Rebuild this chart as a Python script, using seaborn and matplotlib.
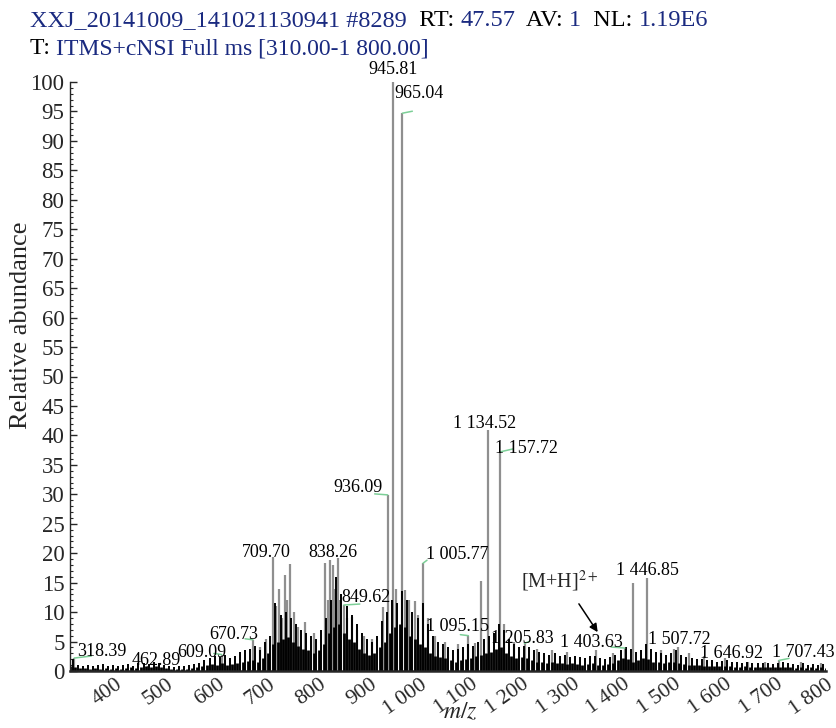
import numpy as np
import pandas as pd
import matplotlib
matplotlib.use('Agg')
import matplotlib.pyplot as plt
from matplotlib.ticker import MultipleLocator
import seaborn as sns

# ── data ───────────────────────────────────────────────────
# black "grass" level, every 10 m/z from 310 to 1800
floor_mz = np.arange(310, 1801, 10)
floor_h = [
    0.8, 0.6, 0.5, 0.5, 0.4, 0.5, 0.4, 0.5, 0.4, 0.5,
    0.4, 0.5, 0.6, 0.5, 0.7, 0.8, 0.7, 0.8, 0.6, 0.5,
    0.3, 0.3, 0.4, 0.4, 0.5, 0.6, 0.8, 1.0, 1.2, 1.0,
    1.3, 1.0, 1.2, 1.4, 1.5, 1.7, 1.8, 1.6, 2.2, 3.0,
    4.5, 5.0, 5.5, 5.8, 5.0, 4.2, 3.8, 3.5, 3.0, 3.5,
    4.5, 6.5, 7.5, 8.0, 6.5, 5.5, 5.0, 3.8, 3.0, 2.8,
    3.0, 4.0, 5.0, 6.5, 7.5, 8.0, 7.5, 6.0, 5.5, 4.5,
    4.0, 3.0, 2.6, 2.4, 2.2, 1.8, 1.6, 1.8, 2.0, 2.2,
    2.5, 2.8, 3.0, 3.2, 3.8, 4.0, 3.0, 2.5, 2.2, 2.4,
    2.2, 1.8, 1.6, 1.5, 1.4, 1.5, 1.3, 1.4, 1.2, 1.3,
    1.2, 1.1, 1.2, 1.3, 1.1, 1.0, 1.2, 1.4, 1.8, 2.2,
    2.0, 1.6, 1.8, 2.2, 2.0, 1.6, 1.5, 1.4, 1.5, 1.6,
    1.4, 1.2, 1.1, 1.0, 1.0, 0.9, 0.9, 0.8, 0.8, 0.9,
    0.8, 0.7, 0.7, 0.8, 0.7, 0.6, 0.7, 0.6, 0.6, 0.7,
    0.7, 0.6, 0.6, 0.5, 0.6, 0.5, 0.6, 0.5, 0.6, 0.5,
]

# black noise spikes, between the floor points
spike_mz = np.arange(315, 1800, 10)
spike_h = [
    2.0, 1.0, 0.9, 1.1, 0.8, 1.0, 1.2, 0.9, 1.1, 0.8,
    1.0, 1.2, 0.9, 1.3, 1.4, 1.2, 1.5, 1.3, 1.1, 0.9,
    0.7, 0.8, 0.9, 1.0, 1.2, 1.4, 1.8, 2.2, 2.5, 2.4,
    2.8, 2.2, 2.6, 3.2, 3.5, 3.8, 4.2, 3.6, 5.0, 6.0,
    11.5, 9.5, 10.0, 9.0, 8.0, 7.0, 6.5, 6.0, 5.5, 7.0,
    9.0, 12.0, 16.0, 13.0, 11.0, 9.5, 8.0, 6.5, 5.5, 5.0,
    6.0, 8.5, 10.0, 12.0, 11.5, 13.5, 12.0, 10.0, 9.0, 11.5,
    8.0, 6.0, 5.0, 4.5, 4.0, 3.5, 3.8, 4.0, 4.5, 4.2,
    5.0, 5.5, 6.0, 6.5, 8.0, 7.0, 5.5, 4.5, 4.0, 4.2,
    4.0, 3.5, 3.2, 3.0, 2.8, 3.0, 2.6, 2.8, 2.4, 2.5,
    2.4, 2.2, 2.5, 2.6, 2.2, 2.0, 2.4, 2.8, 3.5, 4.0,
    3.8, 3.2, 3.5, 4.5, 3.8, 3.2, 3.0, 2.8, 3.0, 3.5,
    2.8, 2.4, 2.2, 2.0, 2.0, 1.8, 1.8, 1.6, 1.7, 1.8,
    1.6, 1.5, 1.4, 1.6, 1.4, 1.3, 1.4, 1.3, 1.2, 1.4,
    1.5, 1.3, 1.2, 1.1, 1.3, 1.1, 1.2, 1.0, 1.2,
]

# resolved (grey) peaks
peak_mz = [318.39, 462.89, 609.09, 670.73, 685, 697, 709.70, 716, 721, 727,
           733, 738, 744, 752, 760, 773, 790, 812, 818, 823,
           828, 833, 838.26, 843, 849.62, 856, 865, 875, 890, 905,
           927.7, 936.09, 945.81, 952, 965.04, 970, 978, 989, 995, 1005.77,
           1015, 1030, 1050, 1075, 1095.15, 1108, 1121, 1134.52, 1157.72, 1165,
           1185, 1205.83, 1230, 1260, 1290, 1346, 1380, 1403.63, 1419, 1446.85,
           1475, 1500, 1507.72, 1530, 1560, 1600, 1646.92, 1680, 1707.43, 1750, 1790]
peak_h = [2.2, 0.9, 2.8, 5.3, 4.0, 5.5, 19.4, 11.0, 14.0, 9.0,
          16.3, 12.0, 18.2, 10.0, 7.5, 8.4, 6.5, 18.3, 12.0, 18.8,
          18.0, 14.0, 19.2, 12.0, 11.2, 9.0, 9.2, 7.0, 6.0, 5.5,
          10.9, 29.9, 100.0, 14.0, 94.7, 13.8, 12.0, 11.8, 9.5, 18.3,
          9.0, 6.0, 5.0, 4.5, 6.0, 4.8, 15.2, 41.0, 37.2, 8.0,
          5.0, 4.7, 3.8, 3.5, 3.2, 3.6, 3.0, 3.9, 15.0, 15.8,
          3.5, 3.8, 4.0, 3.0, 2.5, 2.2, 1.5, 1.6, 1.8, 1.5, 1.4]

label_mz = [318.39, 462.89, 609.09, 670.73, 709.70, 838.26, 849.62, 936.09,
            945.81, 965.04, 1005.77, 1095.15, 1134.52, 1157.72, 1205.83,
            1403.63, 1446.85, 1507.72, 1646.92, 1707.43]

# text centre offsets (pixels) and green leader ends (pixels) for each label
label_off = [(28, 7), (9, 5), (-20, 2), (-19, 5), (-6, 4), (-5, 5), (22, 8), (-30, 7),
             (0, 12), (17, 20), (34, 9), (-11, 9), (-4, 6), (26, 3), (-2, 5),
             (-33, 6), (1, 7), (2, 8), (-17, 9), (24, 8)]
leader = {318.39: (17, 2), 609.09: (-8, 1), 670.73: (-8, 1), 849.62: (16, 1),
          936.09: (-13, 1), 965.04: (10, 2), 1005.77: (4, 3), 1095.15: (-8, 1),
          1157.72: (13, 3), 1205.83: (5, 2), 1403.63: (-14, 1), 1707.43: (10, 2)}

x_ticks = [400, 500, 600, 700, 800, 900, 1000, 1100, 1200, 1300,
           1400, 1500, 1600, 1700, 1800]

peaks = pd.DataFrame({'mz': peak_mz, 'h': peak_h})
floor = pd.DataFrame({'mz': floor_mz, 'h': floor_h})


def fmt(v, nd=2):
    return f'{v:,.{nd}f}'.replace(',', ' ')


sns.set_theme(style='ticks')
plt.rcParams['font.family'] = ['Liberation Serif', 'DejaVu Serif']
plt.rcParams['mathtext.fontset'] = 'stix'

fig = plt.figure(figsize=(8.37, 7.28), dpi=100)
ax = fig.add_axes([70 / 837, 57 / 728, 756 / 837, 589 / 728])

grey = '#8f8f8f'
green = '#7ccf97'
blue = '#1a2a80'

ax.vlines(floor['mz'], 0, floor['h'], color='black', lw=2.0, zorder=2)
ax.vlines(spike_mz, 0, spike_h, color='black', lw=1.4, zorder=2)
ax.vlines(peaks['mz'], 0, peaks['h'], color=grey, lw=1.6, zorder=1)

hmap = dict(zip(peak_mz, peak_h))
for mz, off in zip(label_mz, label_off):
    h = hmap[mz]
    ax.annotate(fmt(mz), xy=(mz, h), xytext=off, textcoords='offset pixels',
                ha='center', va='center', fontsize=13, color='black', zorder=5)
    if mz in leader:
        ax.annotate('', xy=(mz, h), xytext=leader[mz], textcoords='offset pixels',
                    arrowprops=dict(arrowstyle='-', color=green, lw=1.1,
                                    shrinkA=0, shrinkB=0), zorder=4)

# [M+H]2+ marker
ax.text(1199, 14.1, '[M+H]$^{2+}$', ha='left', va='baseline', fontsize=14.5, zorder=5)
ax.annotate('', xy=(1350, 6.6), xytext=(1313, 11.4),
            arrowprops=dict(arrowstyle='-|>', color='black', lw=1.1,
                            mutation_scale=12, shrinkA=0, shrinkB=0), zorder=5)

ax.set_xlim(310, 1800)
ax.set_ylim(0, 100)
ax.set_xticks(x_ticks)
ax.set_xticklabels([fmt(t, 0) for t in x_ticks], rotation=35, ha='right',
                   va='top', rotation_mode='anchor', fontsize=15.5)
ax.set_yticks(range(0, 101, 5))
ax.yaxis.set_minor_locator(MultipleLocator(1))
ax.tick_params(axis='y', direction='in', length=5, width=1, labelsize=16.5, pad=4)
ax.tick_params(axis='y', which='minor', direction='in', length=2.5, width=0.8)
ax.tick_params(axis='x', length=0, pad=3)
sns.despine(ax=ax)
ax.spines['left'].set_linewidth(1.0)
ax.spines['bottom'].set_linewidth(1.8)
ax.set_xlabel('$m/z$', fontsize=17)
ax.xaxis.set_label_coords(0.516, -0.052)
ax.set_ylabel('Relative abundance', fontsize=19)
ax.yaxis.set_label_coords(-0.05, 0.587)
ax.grid(False)

# two-colour header
line1 = [('XXJ_20141009_141021130941 #8289', blue), ('  RT: ', 'black'),
         ('47.57', blue), ('  AV: ', 'black'), ('1', blue),
         ('  NL: ', 'black'), ('1.19E6', blue)]
line2 = [('T: ', 'black'), ('ITMS+cNSI Full ms [310.00-1 800.00]', blue)]

for parts, ytop, fs in [(line1, 31, 17.5), (line2, 59, 17)]:
    prev = fig.text(30 / 837, 1 - ytop / 728, parts[0][0], color=parts[0][1],
                    fontsize=fs, va='bottom')
    for s, c in parts[1:]:
        prev = ax.annotate(s, xy=(1, 0), xycoords=prev, va='bottom', ha='left',
                           color=c, fontsize=fs, annotation_clip=False)

fig.savefig('out.png', dpi=100)
